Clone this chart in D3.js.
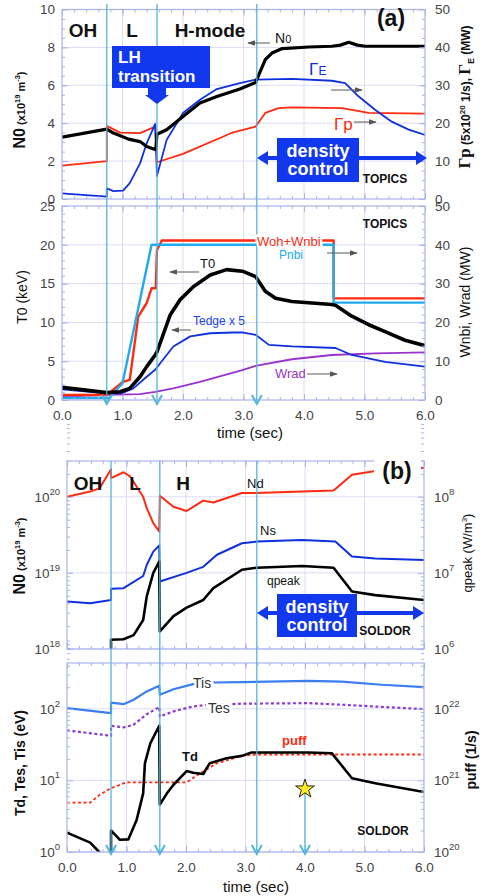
<!DOCTYPE html>
<html>
<head>
<meta charset="utf-8">
<script src="https://cdn.jsdelivr.net/npm/d3@7"></script>
<style>
body { margin: 0; background: #fff; }
text { font-family: "Liberation Sans", Arial, sans-serif; }
</style>
</head>
<body>
<svg></svg>
<script>
// ---------- data, panel (a) top: N0 (left), Gamma_p / Gamma_E (right axis units)
let n0Time = [0, 0.74, 0.85, 1.1, 1.29, 1.4, 1.55, 1.57, 1.73, 2.0, 2.28, 2.56, 2.94, 3.2, 3.36, 3.47, 3.64, 4.08, 4.46, 4.6, 4.74, 4.88, 5.01, 6.0]
let n0 = [3.26, 3.69, 3.48, 3.16, 3.03, 2.77, 2.6, 3.42, 3.65, 4.35, 5.06, 5.41, 5.8, 6.15, 7.35, 7.7, 7.94, 8.02, 8.06, 8.12, 8.27, 8.12, 8.06, 8.06]
let gpTime = [0, 0.74, 0.74, 0.96, 1.29, 1.54, 1.57, 2.0, 2.83, 3.2, 3.36, 3.58, 3.8, 4.63, 5.07, 6.0]
let gp = [8.8, 10.0, 19.3, 17.5, 17.4, 19.1, 9.7, 11.9, 17.6, 19.1, 22.7, 24.0, 24.2, 24.0, 22.7, 22.5]
let geTime = [0, 0.74, 0.74, 0.85, 1.01, 1.12, 1.29, 1.4, 1.54, 1.57, 1.73, 2.0, 2.28, 2.56, 2.94, 3.2, 3.8, 4.46, 4.68, 4.9, 5.18, 5.45, 5.73, 6.0]
let ge = [1.5, 0.6, 2.8, 2.1, 2.2, 4.2, 9.4, 14.7, 19.8, 6.1, 15.6, 22.7, 26.2, 29.0, 30.6, 31.5, 31.7, 31.2, 30.6, 27.1, 23.5, 20.4, 18.3, 16.9]

// ---------- panel (a) bottom: T0, Tedge x5 (left), Woh+Wnbi, Pnbi, Wrad (right)
let t0Time = [0, 0.74, 0.96, 1.12, 1.29, 1.4, 1.54, 1.57, 1.68, 1.79, 1.95, 2.17, 2.45, 2.72, 2.98, 3.2, 3.36, 3.53, 3.8, 4.46, 4.52, 4.79, 5.07, 5.34, 5.67, 6.0]
let t0 = [1.63, 0.95, 1.07, 1.5, 3.0, 4.3, 5.8, 6.2, 8.6, 11.0, 12.9, 14.6, 16.1, 16.8, 16.6, 15.9, 14.0, 13.1, 12.7, 12.3, 12.2, 10.8, 9.7, 8.8, 7.7, 7.0]
let tedgeTime = [0, 0.74, 1.0, 1.18, 1.4, 1.54, 1.62, 1.84, 2.12, 2.45, 2.83, 2.98, 3.2, 3.42, 3.8, 4.52, 4.79, 5.34, 6.0]
let tedge = [1.38, 0.86, 0.9, 1.5, 3.0, 3.9, 4.7, 6.9, 8.2, 8.6, 8.7, 8.7, 8.4, 7.1, 6.9, 6.7, 5.8, 4.9, 4.3]
let wohTime = [0, 0.74, 1.01, 1.12, 1.26, 1.4, 1.48, 1.55, 1.57, 1.65, 4.49, 4.49, 6.0]
let woh = [1.3, 1.3, 4.7, 5.2, 21.5, 25.0, 28.8, 28.8, 38.7, 41.1, 41.1, 26.2, 26.2]
let pnbiTime = [0, 0.78, 1.0, 1.48, 4.49, 4.49, 6.0]
let pnbi = [0.5, 0.5, 4.3, 40.0, 40.0, 25.1, 25.1]
let wradTime = [0, 0.74, 1.29, 1.54, 1.84, 2.28, 2.98, 3.2, 3.8, 4.46, 5.18, 6.0]
let wrad = [0.9, 1.3, 1.5, 2.1, 3.0, 4.7, 7.7, 8.8, 10.5, 11.6, 12.0, 12.3]

// ---------- panel (b) top: Nd, Ns (m^-3), qpeak (W/m3, right)
let ndTime = [0, 0.39, 0.55, 0.74, 0.74, 0.95, 1.06, 1.28, 1.34, 1.45, 1.55, 1.56, 1.79, 2.01, 2.29, 2.46, 2.94, 3.19, 3.95, 4.48, 4.79, 5.13, 6.0]
let nd = [1.0e20, 1.17e20, 1.3e20, 2.3e20, 1.76e20, 2.1e20, 1.85e20, 1.0e20, 7.1e19, 4.5e19, 3.5e19, 1.03e20, 7.4e19, 6.5e19, 8.9e19, 8.4e19, 1.12e20, 1.12e20, 1.17e20, 1.21e20, 1.95e20, 2.15e20, 2.4e20]
let nsTime = [0, 0.39, 0.74, 0.74, 0.95, 1.28, 1.34, 1.45, 1.55, 1.56, 2.01, 2.29, 2.52, 2.94, 3.19, 3.95, 4.51, 4.79, 5.18, 6.0]
let ns = [4.2e18, 4.0e18, 4.4e18, 6.2e18, 6.3e18, 9.1e18, 1.27e19, 1.9e19, 2.3e19, 7.7e18, 1.0e19, 1.2e19, 1.73e19, 2.45e19, 2.58e19, 2.7e19, 2.58e19, 1.64e19, 1.55e19, 1.48e19]
let qTime = [0.74, 0.74, 0.95, 1.12, 1.28, 1.34, 1.45, 1.55, 1.56, 1.79, 2.01, 2.29, 2.46, 2.94, 3.19, 3.95, 4.48, 4.79, 5.18, 6.0]
let qpeak = [9e5, 1.32e6, 1.34e6, 1.52e6, 2.4e6, 4.9e6, 1.0e7, 1.41e7, 1.7e6, 2.7e6, 3.5e6, 4.4e6, 6.3e6, 1.1e7, 1.17e7, 1.23e7, 1.17e7, 5.7e6, 5.1e6, 4.4e6]

// ---------- panel (b) bottom: Tis, Tes, Td (eV), puff (1/s, right)
let tisTime = [0, 0.74, 0.74, 0.95, 1.12, 1.34, 1.55, 1.56, 1.79, 2.12, 2.46, 2.94, 4.06, 4.62, 5.29, 6.0]
let tis = [102, 87, 122, 116, 134, 175, 210, 157, 188, 221, 233, 236, 246, 240, 217, 201]
let tesTime = [0, 0.74, 0.74, 0.95, 1.12, 1.34, 1.55, 1.56, 1.79, 2.12, 2.35, 2.94, 4.06, 4.62, 6.0]
let tes = [50, 42, 58, 55, 60, 84, 106, 78, 92, 108, 113, 118, 120, 114, 99]
let tdTime = [0, 0.39, 0.54, 0.74, 0.74, 0.89, 1.03, 1.17, 1.28, 1.31, 1.4, 1.55, 1.56, 1.68, 1.79, 2.01, 2.12, 2.29, 2.4, 2.68, 2.94, 3.1, 4.06, 4.45, 4.79, 5.18, 6.0]
let td = [1.86, 1.35, 1.0, 0.6, 2.0, 1.48, 1.5, 2.8, 6.6, 17.4, 33, 58, 4.6, 6.6, 8.7, 13.5, 12.8, 12.3, 17.4, 20.4, 22.0, 24.5, 24.5, 24.0, 10.7, 9.1, 6.9]
let puffTime = [0, 0.39, 0.55, 0.74, 1.0, 2.01, 2.24, 2.52, 2.94, 3.19, 6.0]
let puff = [4.9e20, 4.9e20, 6.3e20, 7.8e20, 9.4e20, 9.4e20, 1.26e21, 1.74e21, 2.2e21, 2.3e21, 2.3e21]

// event times (vertical markers)
let eventsA = [0.74, 1.57, 3.22]
let eventsB = [0.74, 1.56, 3.19]
let starTime = 4.0

let width = 484
let height = 896
let gridColor = '#dcdcf6'
let frameColor = '#aab2ee'
let cyan = '#55b5d8'

let svg = d3.select('svg').attr('width', width).attr('height', height)

let defs = svg.append('defs')
defs.append('marker').attr('id', 'ah').attr('viewBox', '0 0 10 10').attr('refX', 9).attr('refY', 5)
    .attr('markerWidth', 7).attr('markerHeight', 7).attr('orient', 'auto')
    .append('path').attr('d', 'M0,1.5 L10,5 L0,8.5 Z').attr('fill', '#555')

let xA = d3.scaleLinear().domain([0, 6]).range([62, 425])
let xB = d3.scaleLinear().domain([0, 6]).range([67, 424])
let yA1 = d3.scaleLinear().domain([0, 10]).range([199, 9.5])
let yA1r = d3.scaleLinear().domain([0, 50]).range([199, 9.5])
let yA2 = d3.scaleLinear().domain([0, 25]).range([400, 206])
let yA2r = d3.scaleLinear().domain([0, 50]).range([400, 206])
let yB1 = d3.scaleLog().domain([1e18, Math.pow(10, 20.47)]).range([649, 461])
let yB1r = d3.scaleLog().domain([1e6, Math.pow(10, 8.47)]).range([649, 461])
let yB2 = d3.scaleLog().domain([1, Math.pow(10, 2.64)]).range([852, 663])
let yB2r = d3.scaleLog().domain([1e20, Math.pow(10, 22.64)]).range([852, 663])

let logMinor = (lo, hi) => {
    let out = []
    for (let e = lo; e < hi; e++) for (let m = 2; m <= 9; m++) out.push(m * Math.pow(10, e))
    return out
}
let decades = (lo, hi) => d3.range(lo, hi + 1).map(e => Math.pow(10, e))

let drawGrid = (id, x, y, majors) => {
    let [x0, x1] = x.range(), [yb, yt] = y.range()
    let g = svg.append('g')
    g.selectAll('.gx').data(d3.range(1, 6)).join('line')
        .attr('x1', d => x(d)).attr('x2', d => x(d)).attr('y1', yt).attr('y2', yb)
        .attr('stroke', gridColor)
    g.selectAll('.gy').data(majors).join('line')
        .attr('x1', x0).attr('x2', x1).attr('y1', d => y(d)).attr('y2', d => y(d))
        .attr('stroke', gridColor)
    defs.append('clipPath').attr('id', id).append('rect')
        .attr('x', x0).attr('y', yt).attr('width', x1 - x0).attr('height', yb - yt)
    return svg.append('g').attr('clip-path', 'url(#' + id + ')')
}

let supText = (sel, d) => {
    sel.text(null)
    sel.append('tspan').text('10')
    sel.append('tspan').attr('dy', -7).attr('font-size', 9.5).text(Math.round(Math.log10(d)))
}

let drawAxes = (x, y, yr, o) => {
    let [x0, x1] = x.range(), [yb, yt] = y.range()
    let g = svg.append('g')
    g.append('g').attr('transform', 'translate(0,' + yb + ')')
        .call(d3.axisBottom(x).tickValues(d3.range(0, 7)).tickSize(-6).tickPadding(10)
            .tickFormat(o.xLabels ? d3.format('.1f') : ''))
    g.append('g').attr('transform', 'translate(0,' + yb + ')')
        .call(d3.axisBottom(x).tickValues(d3.range(0, 30).map(i => i * 0.2)).tickSize(-3).tickFormat(''))
    g.append('g').attr('transform', 'translate(0,' + yt + ')')
        .call(d3.axisTop(x).tickValues(d3.range(0, 7)).tickSize(-6).tickFormat(''))
    g.append('g').attr('transform', 'translate(0,' + yt + ')')
        .call(d3.axisTop(x).tickValues(d3.range(0, 30).map(i => i * 0.2)).tickSize(-3).tickFormat(''))

    let left = g.append('g').attr('transform', 'translate(' + x0 + ',0)')
        .call(d3.axisLeft(y).tickValues(o.left).tickSize(-6).tickPadding(7).tickFormat(d3.format('d')))
    g.append('g').attr('transform', 'translate(' + x0 + ',0)')
        .call(d3.axisLeft(y).tickValues(o.leftMinor).tickSize(-3).tickFormat(''))
    let right = g.append('g').attr('transform', 'translate(' + x1 + ',0)')
        .call(d3.axisRight(yr).tickValues(o.right).tickSize(-6).tickPadding(10).tickFormat(d3.format('d')))
    g.append('g').attr('transform', 'translate(' + x1 + ',0)')
        .call(d3.axisRight(yr).tickValues(o.rightMinor).tickSize(-3).tickFormat(''))

    if (o.log) {
        left.selectAll('text').each(function (d) { supText(d3.select(this), d) })
        right.selectAll('text').each(function (d) { supText(d3.select(this), d) })
    }

    g.selectAll('.domain').remove()
    g.selectAll('line').attr('stroke', frameColor)
    g.selectAll('text').attr('font-size', 13.5).attr('fill', '#444')
        .attr('font-family', '"Liberation Sans", Arial, sans-serif')
    g.append('rect').attr('x', x0).attr('y', yt).attr('width', x1 - x0).attr('height', yb - yt)
        .attr('fill', 'none').attr('stroke', frameColor).attr('stroke-width', 1.2)
}

let series = (g, x, y, ts, vs, color, w, dash) => {
    let line = d3.line().x(d => x(d[0])).y(d => y(d[1]))
    g.append('path').datum(d3.zip(ts, vs)).attr('d', line)
        .attr('fill', 'none').attr('stroke', color).attr('stroke-width', w)
        .attr('stroke-linejoin', 'round').attr('stroke-dasharray', dash || null)
}

let label = (x, y, txt, o) => {
    o = o || {}
    let t = svg.append('text').attr('x', x).attr('y', y).text(txt)
        .attr('font-size', o.size || 13).attr('fill', o.color || '#111')
        .attr('font-weight', o.bold ? 'bold' : null)
        .attr('text-anchor', o.anchor || 'start')
    if (o.serif) t.attr('font-family', '"Liberation Serif", "Times New Roman", serif')
    if (o.halo) t.attr('stroke', '#fff').attr('stroke-width', 5).attr('paint-order', 'stroke')
    return t
}

let arrow = (x1, y1, x2, y2) => {
    svg.append('line').attr('x1', x1).attr('y1', y1).attr('x2', x2).attr('y2', y2)
        .attr('stroke', '#666').attr('stroke-width', 1.1).attr('marker-end', 'url(#ah)')
}

// rotated axis title built from [text, size, dy, bold, serif]
let title = (x, y, parts) => {
    let t = svg.append('text').attr('transform', 'translate(' + x + ',' + y + ') rotate(-90)')
        .attr('text-anchor', 'middle').attr('fill', '#111')
    parts.forEach(p => {
        let s = t.append('tspan').text(p[0]).attr('font-size', p[1])
        if (p[2]) s.attr('dy', p[2])
        if (p[3]) s.attr('font-weight', 'bold')
        if (p[4]) s.attr('font-family', '"Liberation Serif", serif')
    })
}

let vMarker = (x, t, y0, y1) => {
    svg.append('line').attr('x1', x(t)).attr('x2', x(t)).attr('y1', y0).attr('y2', y1)
        .attr('stroke', cyan).attr('stroke-width', 1.3)
    svg.append('path').attr('d', 'M' + (x(t) - 5) + ',' + (y1 - 9) + ' L' + x(t) + ',' + y1 + ' L' + (x(t) + 5) + ',' + (y1 - 9))
        .attr('fill', 'none').attr('stroke', cyan).attr('stroke-width', 2)
}

let densityControl = (xl, xr, ya, bx0, bx1, by0, by1) => {
    let blue = '#1238ee'
    svg.append('rect').attr('x', xl + 10).attr('y', ya - 2).attr('width', xr - xl - 20).attr('height', 4).attr('fill', blue)
    svg.append('path').attr('d', 'M' + xl + ',' + ya + ' L' + (xl + 11) + ',' + (ya - 7) + ' L' + (xl + 11) + ',' + (ya + 7) + 'Z').attr('fill', blue)
    svg.append('path').attr('d', 'M' + xr + ',' + ya + ' L' + (xr - 11) + ',' + (ya - 7) + ' L' + (xr - 11) + ',' + (ya + 7) + 'Z').attr('fill', blue)
    svg.append('rect').attr('x', bx0).attr('y', by0).attr('width', bx1 - bx0).attr('height', by1 - by0).attr('fill', blue)
    label((bx0 + bx1) / 2, by0 + 19, 'density', { size: 18, bold: true, color: '#fff', anchor: 'middle' })
    label((bx0 + bx1) / 2, by0 + 37, 'control', { size: 18, bold: true, color: '#fff', anchor: 'middle' })
}

// ================= panel (a) top
let pA1 = drawGrid('cA1', xA, yA1, [2, 4, 6, 8])
series(pA1, xA, yA1r, gpTime, gp, '#ff2a10', 1.8)
series(pA1, xA, yA1r, geTime, ge, '#1030dd', 1.8)
series(pA1, xA, yA1, n0Time, n0, '#000', 3.2)
drawAxes(xA, yA1, yA1r, {
    left: d3.range(0, 11, 2), leftMinor: d3.range(0, 20).map(i => i * 0.5),
    right: d3.range(0, 51, 10), rightMinor: d3.range(0, 20).map(i => i * 2.5)
})

// ================= panel (a) bottom
let pA2 = drawGrid('cA2', xA, yA2, [5, 10, 15, 20])
series(pA2, xA, yA2r, wradTime, wrad, '#9933cc', 1.8)
series(pA2, xA, yA2, tedgeTime, tedge, '#1030dd', 1.8)
series(pA2, xA, yA2r, wohTime, woh, '#ff2a10', 2.4)
series(pA2, xA, yA2r, pnbiTime, pnbi, '#22aaee', 2.4)
series(pA2, xA, yA2, t0Time, t0, '#000', 3.6)
drawAxes(xA, yA2, yA2r, {
    xLabels: true,
    left: d3.range(0, 26, 5), leftMinor: d3.range(0, 25),
    right: d3.range(0, 51, 10), rightMinor: d3.range(0, 25).map(i => i * 2)
})

// ================= panel (b) top
let pB1 = drawGrid('cB1', xB, yB1, decades(18, 20))
series(pB1, xB, yB1, ndTime, nd, '#ff2a10', 2)
series(pB1, xB, yB1, nsTime, ns, '#1030dd', 2)
series(pB1, xB, yB1r, qTime, qpeak, '#000', 2.6)
drawAxes(xB, yB1, yB1r, {
    log: true,
    left: decades(18, 20), leftMinor: logMinor(18, 21),
    right: decades(6, 8), rightMinor: logMinor(6, 9)
})

// ================= panel (b) bottom
let pB2 = drawGrid('cB2', xB, yB2, decades(0, 2))
series(pB2, xB, yB2, tisTime, tis, '#3a7ef0', 2.2)
series(pB2, xB, yB2, tesTime, tes, '#8a3ad6', 2.2, '3,2.5')
series(pB2, xB, yB2r, puffTime, puff, '#ff2a10', 1.8, '3,2.5')
series(pB2, xB, yB2, tdTime, td, '#000', 2.6)
drawAxes(xB, yB2, yB2r, {
    log: true, xLabels: true,
    left: decades(0, 2), leftMinor: logMinor(0, 3),
    right: decades(20, 22), rightMinor: logMinor(20, 23)
})

// ================= event markers
eventsA.forEach(t => vMarker(xA, t, 4, 404))
eventsB.forEach(t => vMarker(xB, t, 461, 854))
vMarker(xB, starTime, 792, 854)
svg.append('path').attr('d', d3.symbol(d3.symbolStar).size(110)())
    .attr('transform', 'translate(' + xB(starTime) + ',789)')
    .attr('fill', '#ffee22').attr('stroke', '#222').attr('stroke-width', 1)

// ================= axis titles
title(25, 110, [['N0', 16, 0, true], [' (x10', 11, 0, true], ['19', 7.5, -5, true], [' m', 11, 5, true], ['-3', 7.5, -5, true], [')', 11, 5, true]])
title(470, 97, [['Γp', 17, 0, true, true], [' (5x10', 12, 0, true], ['20', 8, -5, true], [' 1/s),  ', 12, 5, true], ['Γ', 17, 0, true, true], ['E', 8.5, 4, true], [' (MW)', 12, -4, true]])
title(27, 297, [['T0 (keV)', 14]])
title(470, 302, [['Wnbi, Wrad (MW)', 14]])
title(25, 556, [['N0', 16, 0, true], [' (x10', 11, 0, true], ['19', 7.5, -5, true], [' m', 11, 5, true], ['-3', 7.5, -5, true], [')', 11, 5, true]])
title(472, 553, [['qpeak (W/m', 13], ['3', 8, -5], [')', 13, 5]])
title(25, 763, [['Td, Tes, Tis (eV)', 14, 0, true]])
title(476, 760, [['puff (1/s)', 14, 0, true]])
label(250, 438, 'time (sec)', { size: 15, anchor: 'middle' })
label(256, 892, 'time (sec)', { size: 15, anchor: 'middle' })

// ================= panel (a) annotations
label(83, 37, 'OH', { size: 19, bold: true, anchor: 'middle' })
label(132, 37, 'L', { size: 19, bold: true, anchor: 'middle' })
label(210, 37, 'H-mode', { size: 19, bold: true, anchor: 'middle' })
label(391, 26, '(a)', { size: 23, bold: true, serif: true, anchor: 'middle' })
label(385, 183, 'TOPICS', { size: 12, bold: true, anchor: 'middle' })
label(385, 228, 'TOPICS', { size: 12, bold: true, anchor: 'middle' })

let n0Lbl = label(275, 43, 'N', { size: 14 })
n0Lbl.append('tspan').attr('font-size', 11).text('0')
arrow(270, 43, 248, 43)
let geLbl = label(309, 75, 'Γ', { size: 17, color: '#1030dd', serif: true })
geLbl.append('tspan').attr('font-size', 12).attr('font-family', '"Liberation Sans", Arial').text('E')
arrow(331, 90, 362, 90)
label(334, 130, 'Γp', { size: 17, color: '#ff2a10', serif: true })
arrow(354, 122, 376, 122)

// LH transition block
svg.append('rect').attr('x', 112).attr('y', 46).attr('width', 98).attr('height', 42).attr('fill', '#1238ee')
label(118, 63, 'LH', { size: 17, bold: true, color: '#fff' })
label(118, 82, 'transition', { size: 17, bold: true, color: '#fff' })
svg.append('path').attr('d', 'M148,87 L166,87 L166,95 L169,95 L157,104 L145,95 L148,95 Z').attr('fill', '#1238ee')

densityControl(257, 427, 158, 277, 359, 138, 182)

label(200, 268, 'T0', { size: 13 })
arrow(199, 272, 170, 272)
label(193, 325, 'Tedge x 5', { size: 12, color: '#2244dd' })
arrow(191, 330, 172, 330)
label(257, 246, 'Woh+Wnbi', { size: 13, color: '#ff2a10', halo: true })
label(279, 259, 'Pnbi', { size: 12, color: '#22aaee' })
arrow(327, 253, 357, 253)
label(275, 378, 'Wrad', { size: 13, color: '#9933cc' })
arrow(307, 374, 337, 374)

// ================= panel (b) annotations
label(88, 490, 'OH', { size: 19, bold: true, anchor: 'middle' })
label(135, 490, 'L', { size: 19, bold: true, anchor: 'middle' })
label(183, 490, 'H', { size: 19, bold: true, anchor: 'middle' })
svg.append('rect').attr('x', 374).attr('y', 458).attr('width', 47).attr('height', 26).attr('fill', '#fff')
label(397, 479, '(b)', { size: 23, bold: true, serif: true, anchor: 'middle' })
label(247, 488, 'Nd', { size: 13 })
label(260, 535, 'Ns', { size: 13 })
label(267, 585, 'qpeak', { size: 12 })
label(385, 635, 'SOLDOR', { size: 12, bold: true, anchor: 'middle' })
densityControl(257, 424, 613, 277, 357, 594, 637)

label(193, 688, 'Tis', { size: 14, color: '#333', halo: true })
label(208, 713, 'Tes', { size: 14, color: '#333', halo: true })
label(182, 761, 'Td', { size: 13, bold: true })
label(282, 745, 'puff', { size: 13, bold: true, color: '#ff2a10' })
label(383, 835, 'SOLDOR', { size: 12, bold: true, anchor: 'middle' })
</script>
</body>
</html>
